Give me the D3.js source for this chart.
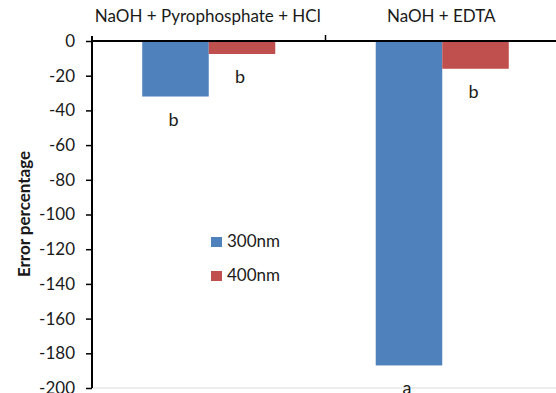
<!DOCTYPE html>
<html>
<head>
<meta charset="utf-8">
<script src="https://cdn.jsdelivr.net/npm/d3@7"></script>
<style>
  body { margin: 0; background: #fff; }
  text { font-family: Lato, "Liberation Sans", Arial, sans-serif; fill: #1a1a1a; }
</style>
</head>
<body>
<div id="chart"></div>
<script>
// Data
var categories = ["NaOH + Pyrophosphate + HCl", "NaOH + EDTA"];
var seriesNames = ["300nm", "400nm"];
var values300 = [-32, -187];
var values400 = [-7.5, -16];
var letters300 = ["b", "a"];
var letters400 = ["b", "b"];
var yTicks = [0, -20, -40, -60, -80, -100, -120, -140, -160, -180, -200];
var colors = ["#4F81BD", "#C0504D"];

var width = 556, height = 393;
var plot = { left: 92, right: 559, top: 41, bottom: 388 };

var svg = d3.select("#chart")
    .append("svg")
    .attr("width", width)
    .attr("height", height);

var x0 = d3.scaleBand()
    .domain(categories)
    .range([plot.left, plot.right]);

var x1 = d3.scaleBand()
    .domain(seriesNames)
    .range([0, x0.bandwidth()])
    .paddingOuter(0.755);

var y = d3.scaleLinear()
    .domain([-200, 0])
    .range([plot.bottom, plot.top]);

// light border line at the bottom of the plot
svg.append("line")
    .attr("x1", plot.left).attr("x2", width)
    .attr("y1", plot.bottom).attr("y2", plot.bottom)
    .attr("stroke", "#d9d9d9").attr("stroke-width", 1);

// build rows for the bars
var rows = [];
categories.forEach(function (c, i) {
    rows.push({ cat: c, series: seriesNames[0], value: values300[i], letter: letters300[i], color: colors[0] });
    rows.push({ cat: c, series: seriesNames[1], value: values400[i], letter: letters400[i], color: colors[1] });
});

svg.selectAll(".bar")
    .data(rows)
    .enter()
    .append("rect")
    .attr("class", "bar")
    .attr("x", function (d) { return x0(d.cat) + x1(d.series); })
    .attr("y", y(0))
    .attr("width", x1.bandwidth())
    .attr("height", function (d) { return y(d.value) - y(0); })
    .attr("fill", function (d) { return d.color; });

// significance letters under each bar
svg.selectAll(".letter")
    .data(rows)
    .enter()
    .append("text")
    .attr("class", "letter")
    .attr("x", function (d) { return x0(d.cat) + x1(d.series) + x1.bandwidth() / 2 - 2; })
    .attr("y", function (d) { return y(d.value) + 29; })
    .attr("text-anchor", "middle")
    .style("font-size", "18px")
    .text(function (d) { return d.letter; });

// y axis
var yAxis = svg.append("g")
    .attr("transform", "translate(" + plot.left + ",0)")
    .call(d3.axisLeft(y).tickValues(yTicks).tickSize(6).tickPadding(11).tickFormat(d3.format("d")));
yAxis.select(".domain").attr("stroke", "#000").attr("stroke-width", 2)
    .attr("d", "M0," + (plot.top - 5) + "V" + plot.bottom);
yAxis.selectAll(".tick line").attr("stroke", "#000").attr("stroke-width", 1.5);
yAxis.selectAll(".tick text")
    .style("font-size", "17px")
    .style("font-family", "Lato, 'Liberation Sans', Arial, sans-serif")
    .attr("fill", "#1a1a1a")
    .text(function (d) { return d === 0 ? "0" : "-" + Math.abs(d); });

// zero line (category axis) with upward ticks at band edges
svg.append("line")
    .attr("x1", plot.left).attr("x2", width)
    .attr("y1", y(0)).attr("y2", y(0))
    .attr("stroke", "#000").attr("stroke-width", 2);
svg.selectAll(".ctick")
    .data(categories.slice(1))
    .enter()
    .append("line")
    .attr("x1", function (d) { return x0(d); })
    .attr("x2", function (d) { return x0(d); })
    .attr("y1", y(0)).attr("y2", y(0) - 6)
    .attr("stroke", "#000").attr("stroke-width", 1.5);

// category labels on top
svg.selectAll(".cat")
    .data(categories)
    .enter()
    .append("text")
    .attr("class", "cat")
    .attr("x", function (d) { return x0(d) + x0.bandwidth() / 2 - 1; })
    .attr("y", 22)
    .attr("text-anchor", "middle")
    .style("font-size", "17px")
    .text(function (d) { return d; });

// y axis title
svg.append("text")
    .attr("transform", "translate(30,214) rotate(-90)")
    .attr("text-anchor", "middle")
    .style("font-size", "17px")
    .style("font-weight", "bold")
    .text("Error percentage");

// legend
var legend = svg.selectAll(".legend")
    .data(seriesNames)
    .enter()
    .append("g")
    .attr("class", "legend")
    .attr("transform", function (d, i) { return "translate(211," + (237 + i * 34) + ")"; });
legend.append("rect")
    .attr("width", 11).attr("height", 10)
    .attr("fill", function (d, i) { return colors[i]; });
legend.append("text")
    .attr("x", 16).attr("y", 10)
    .style("font-size", "17px")
    .text(function (d) { return d; });
</script>
</body>
</html>
